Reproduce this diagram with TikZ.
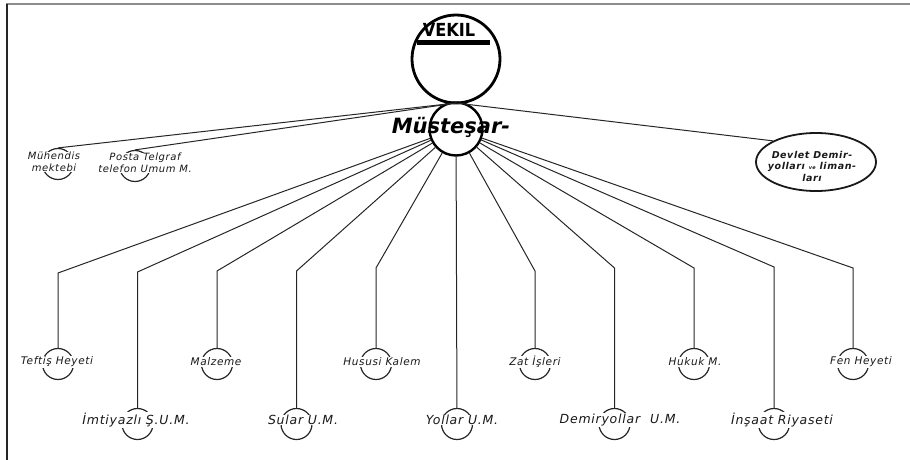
\documentclass[tikz,border=0pt]{standalone}
\usepackage{fontspec}
\usetikzlibrary{shapes.geometric}
\newfontfamily\hand{DejaVu Sans}
\newfontfamily\handw{DejaVu Sans}[LetterSpace=6]
\newfontfamily\handc{DejaVu Sans Condensed}
\tikzset{
  x=1pt, y=-1pt,
  conn/.style={line width=1pt, draw=black!85},
  unit/.style={circle, draw=black!85, line width=1.2pt, minimum size=31pt, inner sep=0pt},
  lbl/.style={fill=white, inner sep=0.6pt, font=\handw\itshape\fontsize{10.5}{11}\selectfont, text=black!90},
  lblb/.style={lbl, font=\handw\itshape\fontsize{12.5}{13}\selectfont},
  small/.style={align=center, inner sep=0.5pt, font=\handw\itshape\fontsize{10}{12}\selectfont, text=black!90},
}
\begin{document}
\begin{tikzpicture}
\useasboundingbox (0,0) rectangle (910,460);
% sheet edges
\draw[line width=2pt, draw=black!45] (6,4.5) -- (910,4.5);
\draw[line width=2pt, draw=black!85] (6.5,4) -- (6.5,460);

% top offices
\node[circle, draw, line width=2.8pt, minimum size=88pt, inner sep=0pt] (vek) at (456,59) {};
\node[font=\handc\bfseries\fontsize{18}{18}\selectfont, inner sep=0pt] (vekt) at (449,30) {VEKIL};
\fill (417,40) rectangle (490,45.5);
\node[circle, draw, line width=2.4pt, minimum size=53pt, inner sep=0pt] (mus) at (456,129) {};
\node[font=\hand\bfseries\itshape\fontsize{21}{21}\selectfont, inner sep=0pt] (must) at (451,127) {Müsteşar-};
\coordinate (junc) at (456,103);

% attached offices
\node[unit] (muh) at (58,164) {};
\node[unit] (pos) at (135,166) {};
\node[ellipse, draw=black!90, line width=1.8pt, minimum width=120pt, minimum height=58pt, inner sep=0pt] (dev) at (816,162) {};
\node[small, fill=white] (muht) at (54,162) {Mühendis\\mektebi};
\node[small, fill=white] (post) at (145,163) {Posta Telgraf\\telefon Umum M.};
\node[small, font=\handw\bfseries\itshape\fontsize{9.5}{11.5}\selectfont] (devt) at (812,166) {Devlet Demir-\\yolları {\tiny ve} liman-\\ları};

\draw[conn] (junc) -- (muh.north);
\draw[conn] (junc) -- (pos.north);
\draw[conn] (junc) -- (dev.north west);

% departments
\node[unit] (tef) at (58,364) {};
\node[unit] (imt) at (137.5,424) {};
\node[unit] (mal) at (217,364) {};
\node[unit] (sul) at (296.5,424) {};
\node[unit] (hus) at (376,364) {};
\node[unit] (yol) at (457,424) {};
\node[unit] (zat) at (535,364) {};
\node[unit] (dem) at (614.5,424) {};
\node[unit] (huk) at (694,364) {};
\node[unit] (ins) at (774,424) {};
\node[unit] (fen) at (853,364) {};

\coordinate (k1) at (58,273);
\coordinate (k2) at (137.5,272);
\coordinate (k3) at (217,271);
\coordinate (k4) at (296.5,271);
\coordinate (k5) at (376,268);
\coordinate (k7) at (535,271);
\coordinate (k8) at (614.5,268);
\coordinate (k9) at (694,268);
\coordinate (k10) at (774,267);
\coordinate (k11) at (853,268);

\draw[conn] (mus) -- (k1) -- (tef);
\draw[conn] (mus) -- (k2) -- (imt);
\draw[conn] (mus) -- (k3) -- (mal);
\draw[conn] (mus) -- (k4) -- (sul);
\draw[conn] (mus) -- (k5) -- (hus);
\draw[conn] (mus) -- (yol);
\draw[conn] (mus) -- (k7) -- (zat);
\draw[conn] (mus) -- (k8) -- (dem);
\draw[conn] (mus) -- (k9) -- (huk);
\draw[conn] (mus) -- (k10) -- (ins);
\draw[conn] (mus) -- (k11) -- (fen);

% labels
\node[lbl] (teft) at (57,362) {Teftiş Heyeti};
\node[lbl] (malt) at (216,362) {Malzeme};
\node[lbl] (hust) at (382,362) {Hususi Kalem};
\node[lbl] (zatt) at (535,362) {Zat İşleri};
\node[lbl] (hukt) at (695,362) {Hukuk M.};
\node[lbl] (fent) at (861,362) {Fen Heyeti};
\node[lblb] (imtt) at (136,420) {İmtiyazlı Ş.U.M.};
\node[lblb] (sult) at (303,420) {Sular U.M.};
\node[lblb] (yolt) at (462,420) {Yollar U.M.};
\node[lblb] (demt) at (620,420) {Demiryollar\hspace{10pt}U.M.};
\node[lblb] (inst) at (782,420) {İnşaat Riyaseti};
\end{tikzpicture}
\end{document}
